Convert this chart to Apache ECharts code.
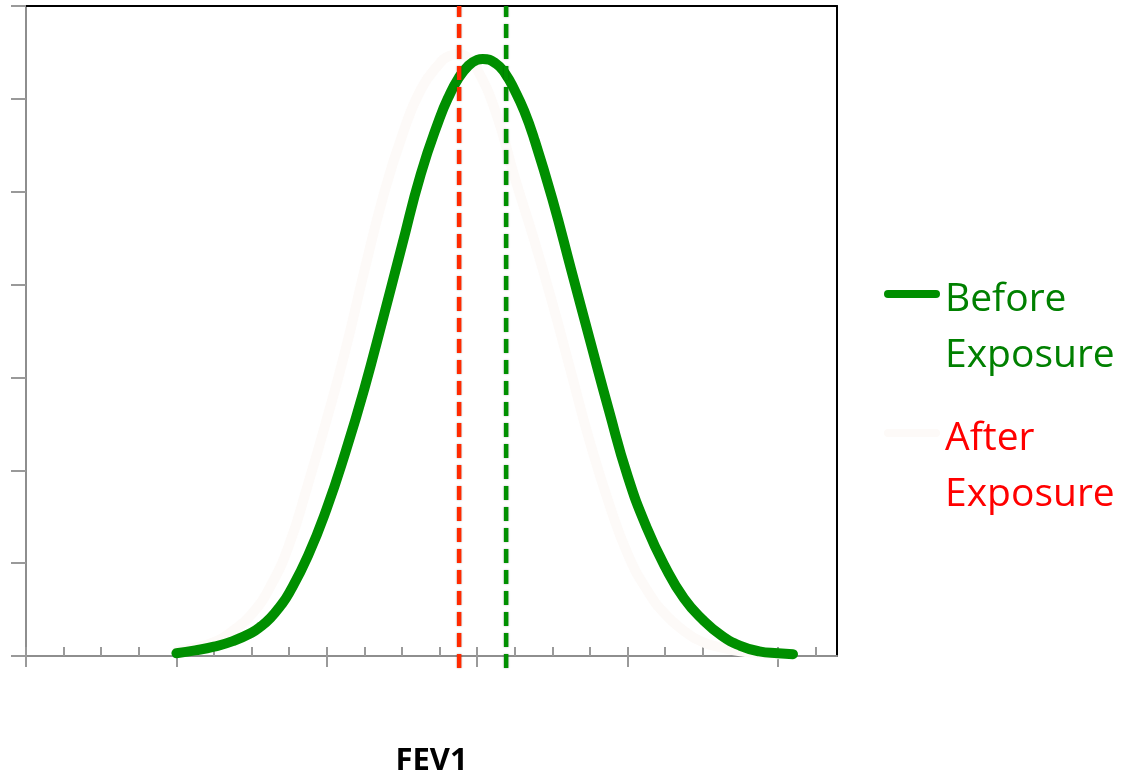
<!DOCTYPE html>
<html>
<head>
<meta charset="utf-8">
<script src="https://cdn.jsdelivr.net/npm/echarts@6/dist/echarts.min.js"></script>
<style>
html,body{margin:0;padding:0;background:#fff;}
#chart{width:1128px;height:778px;}
</style>
</head>
<body>
<div id="chart"></div>
<script>
// ---- data ----
const seriesNames = ['Before Exposure', 'After Exposure'];
const beforeX = [4, 4.5, 5, 5.5, 6, 6.25, 6.5, 6.75, 7, 7.5, 8, 8.5, 9, 9.5, 10, 10.5, 11, 11.25, 11.5, 11.75, 12, 12.15, 12.5, 12.75, 13, 13.25, 13.5, 14, 14.5, 15, 15.5, 16, 16.5, 17, 17.5, 18, 18.5, 19, 19.5, 20, 20.4];
const beforeY = [0.03, 0.06, 0.10, 0.16, 0.25, 0.32, 0.41, 0.53, 0.68, 1.08, 1.59, 2.20, 2.88, 3.64, 4.42, 5.19, 5.79, 6.03, 6.22, 6.35, 6.42, 6.43, 6.38, 6.27, 6.09, 5.87, 5.59, 4.92, 4.16, 3.40, 2.65, 1.94, 1.39, 0.96, 0.62, 0.39, 0.22, 0.11, 0.05, 0.03, 0.02];
const afterX = [4, 4.5, 5, 5.5, 6, 6.5, 7, 7.5, 8, 8.5, 9, 9.5, 10, 10.5, 11, 11.25, 11.5, 11.75, 12, 12.5, 13, 13.5, 14, 14.5, 15, 15.5, 16, 16.5, 17, 17.5, 18, 18.5, 19, 19.5, 20];
const afterY = [0.05, 0.09, 0.15, 0.27, 0.45, 0.75, 1.20, 1.85, 2.55, 3.30, 4.15, 4.95, 5.60, 6.10, 6.38, 6.46, 6.48, 6.44, 6.32, 5.85, 5.15, 4.50, 3.80, 3.05, 2.30, 1.65, 1.10, 0.72, 0.45, 0.27, 0.15, 0.09, 0.05, 0.03, 0.02];
const afterMeanX = 11.52;   // red dashed line
const beforeMeanX = 12.77;  // green dashed line
const xMax = 21.57;
const yMax = 7;
const minorTicks = [0,1,2,3,4,5,6,7,8,9,10,11,12,13,14,15,16,17,18,19,20,21];
const majorTicks = [0,4,8,12,16,20];
const xAxisName = 'FEV1';

// ---- chart ----
const chart = echarts.init(document.getElementById('chart'), null, {renderer: 'canvas'});
const pair = (xs, ys) => xs.map((x, i) => [x, ys[i]]);
const gray = '#8e8e8e';
const legendIcon = 'path://M4,0 L52,0 A4,4 0 0 1 52,8 L4,8 A4,4 0 0 1 4,0 Z';
const fontFam = '"Open Sans", "Noto Sans", sans-serif';
const legendText = n => '{s| }\n' + n.replace(' ', '\n');

const option = {
  animation: false,
  backgroundColor: '#ffffff',
  grid: {left: 26, top: 6, right: 291, bottom: 122, containLabel: false, outerBoundsMode: 'none'},
  xAxis: [
    {
      type: 'value', min: 0, max: xMax, position: 'bottom',
      axisLine: {show: true, onZero: false, lineStyle: {color: gray, width: 2}},
      axisTick: {show: true, inside: true, length: 9, customValues: minorTicks, lineStyle: {color: '#9a9a9a', width: 2}},
      axisLabel: {show: false}, splitLine: {show: false},
      name: xAxisName, nameLocation: 'middle', nameGap: 90,
      nameTextStyle: {fontFamily: fontFam, fontWeight: 'bold', fontSize: 31, color: '#000'}
    },
    {
      type: 'value', min: 0, max: xMax, position: 'bottom',
      axisLine: {show: false, onZero: false},
      axisTick: {show: true, inside: false, length: 11, customValues: majorTicks, lineStyle: {color: '#9a9a9a', width: 2}},
      axisLabel: {show: false}, splitLine: {show: false}
    },
    {
      type: 'value', min: 0, max: xMax, position: 'top',
      axisLine: {show: true, onZero: false, lineStyle: {color: '#000', width: 2}},
      axisTick: {show: false}, axisLabel: {show: false}, splitLine: {show: false}
    }
  ],
  yAxis: [
    {
      type: 'value', min: 0, max: yMax, interval: 1, position: 'left',
      axisLine: {show: true, onZero: false, lineStyle: {color: gray, width: 2}},
      axisTick: {show: true, inside: false, length: 15, lineStyle: {color: '#999', width: 2}},
      axisLabel: {show: false}, splitLine: {show: false}
    },
    {
      type: 'value', min: 0, max: yMax, position: 'right',
      axisLine: {show: true, onZero: false, lineStyle: {color: '#000', width: 2}},
      axisTick: {show: false}, axisLabel: {show: false}, splitLine: {show: false}
    }
  ],
  legend: [
    {
      orient: 'vertical', left: 884, top: 204, padding: 0,
      data: [{name: seriesNames[0], textStyle: {color: '#008000'}}],
      icon: legendIcon, itemWidth: 56, itemHeight: 8,
      formatter: legendText,
      textStyle: {fontFamily: fontFam, fontSize: 39, lineHeight: 56, rich: {s: {fontSize: 10, lineHeight: 68}}}
    },
    {
      orient: 'vertical', left: 884, top: 343, padding: 0,
      data: [{name: seriesNames[1], textStyle: {color: '#ff0000'}}],
      icon: legendIcon, itemWidth: 56, itemHeight: 8,
      formatter: legendText,
      textStyle: {fontFamily: fontFam, fontSize: 39, lineHeight: 56, rich: {s: {fontSize: 10, lineHeight: 68}}}
    }
  ],
  series: [
    {
      name: seriesNames[1], type: 'line', data: pair(afterX, afterY),
      smooth: 0.5, symbol: 'none', z: 2,
      itemStyle: {color: '#fdfaf8'},
      lineStyle: {color: '#fdfaf8', width: 10, cap: 'round'}
    },
    {
      name: seriesNames[0], type: 'line', data: pair(beforeX, beforeY),
      smooth: 0.5, symbol: 'none', z: 3,
      itemStyle: {color: '#008f00'},
      lineStyle: {color: '#008f00', width: 10, cap: 'round', join: 'round'}
    },
    {
      name: 'afterMean', type: 'line', data: [[afterMeanX, -0.13], [afterMeanX, yMax]],
      symbol: 'none', clip: false, z: 5, silent: true,
      lineStyle: {color: '#ff2a00', width: 4.5, type: [14, 7],
        shadowColor: 'rgba(0,0,0,0.3)', shadowBlur: 2}
    },
    {
      name: 'beforeMean', type: 'line', data: [[beforeMeanX, -0.13], [beforeMeanX, yMax]],
      symbol: 'none', clip: false, z: 5, silent: true,
      lineStyle: {color: '#009000', width: 4.5, type: [14, 7],
        shadowColor: 'rgba(0,0,0,0.3)', shadowBlur: 2}
    }
  ]
};
chart.setOption(option);
</script>
</body>
</html>
